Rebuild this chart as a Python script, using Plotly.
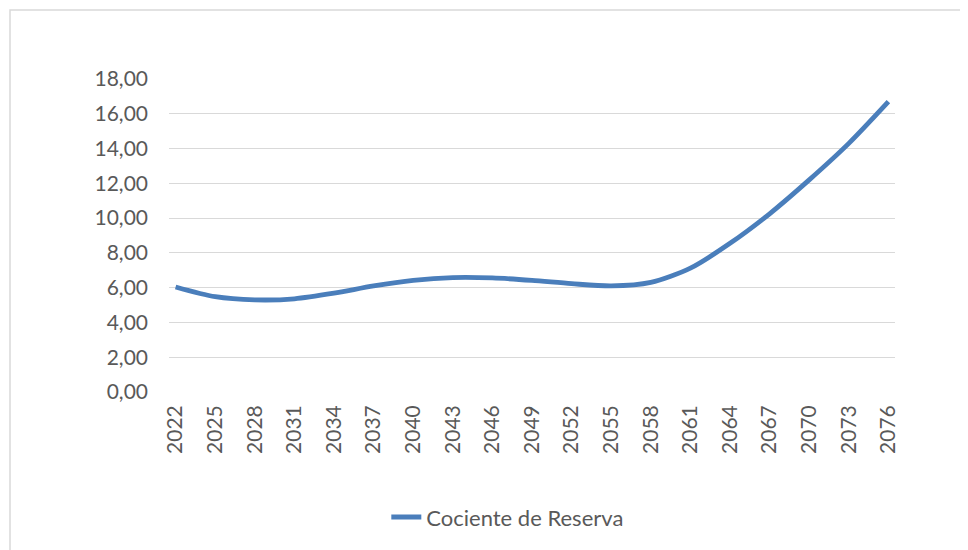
import plotly.graph_objects as go

years = [2022, 2025, 2028, 2031, 2034, 2037, 2040, 2043, 2046, 2049,
         2052, 2055, 2058, 2061, 2064, 2067, 2070, 2073, 2076]
cociente = [6.04, 5.48, 5.30, 5.36, 5.68, 6.10, 6.42, 6.58, 6.56, 6.42,
            6.23, 6.10, 6.30, 7.12, 8.55, 10.25, 12.20, 14.30, 16.70]
y_ticks = [0, 2, 4, 6, 8, 10, 12, 14, 16, 18]
y_tick_labels = [f"{v:.2f}".replace(".", ",") for v in y_ticks]
x_ticks = years
series_name = "Cociente de Reserva"

# page body has an 8px margin; plot area target: x 169..895, y 79..392
fig = go.Figure()
fig.add_trace(go.Scatter(
    x=years, y=cociente, mode="lines", name=series_name,
    line=dict(color="#4a7ebb", width=4.8, shape="spline", smoothing=0.8),
))

fig.update_layout(
    width=960, height=542,
    margin=dict(l=161, r=73, t=71, b=158),
    paper_bgcolor="white", plot_bgcolor="white",
    font=dict(family="Lato, Liberation Sans, sans-serif", color="#595959", size=21),
    showlegend=True,
    legend=dict(x=0.466, y=-0.40, xanchor="center", yanchor="middle",
                orientation="h", font=dict(size=22, color="#595959"),
                bgcolor="rgba(0,0,0,0)"),
    xaxis=dict(range=[2021.5, 2076.5],
               tickmode="array", tickvals=x_ticks, ticktext=[str(v) for v in x_ticks],
               tickangle=-90, showgrid=False, zeroline=False, showline=False,
               ticks="", ticklen=0, fixedrange=True, ticklabelstandoff=8),
    yaxis=dict(range=[0, 18], tickmode="array", tickvals=y_ticks, ticktext=y_tick_labels,
               showgrid=True, gridcolor="#d9d9d9", gridwidth=1.3, zeroline=False,
               showline=False, ticks="", ticklabelstandoff=20),
    shapes=[dict(type="rect", xref="paper", yref="paper",
                 x0=-0.219, x1=2.0, y0=-2.0, y1=1.2204,
                 line=dict(color="#d9d9d9", width=1.5), fillcolor="rgba(0,0,0,0)",
                 layer="below")],
)

fig.write_html("out.html")
